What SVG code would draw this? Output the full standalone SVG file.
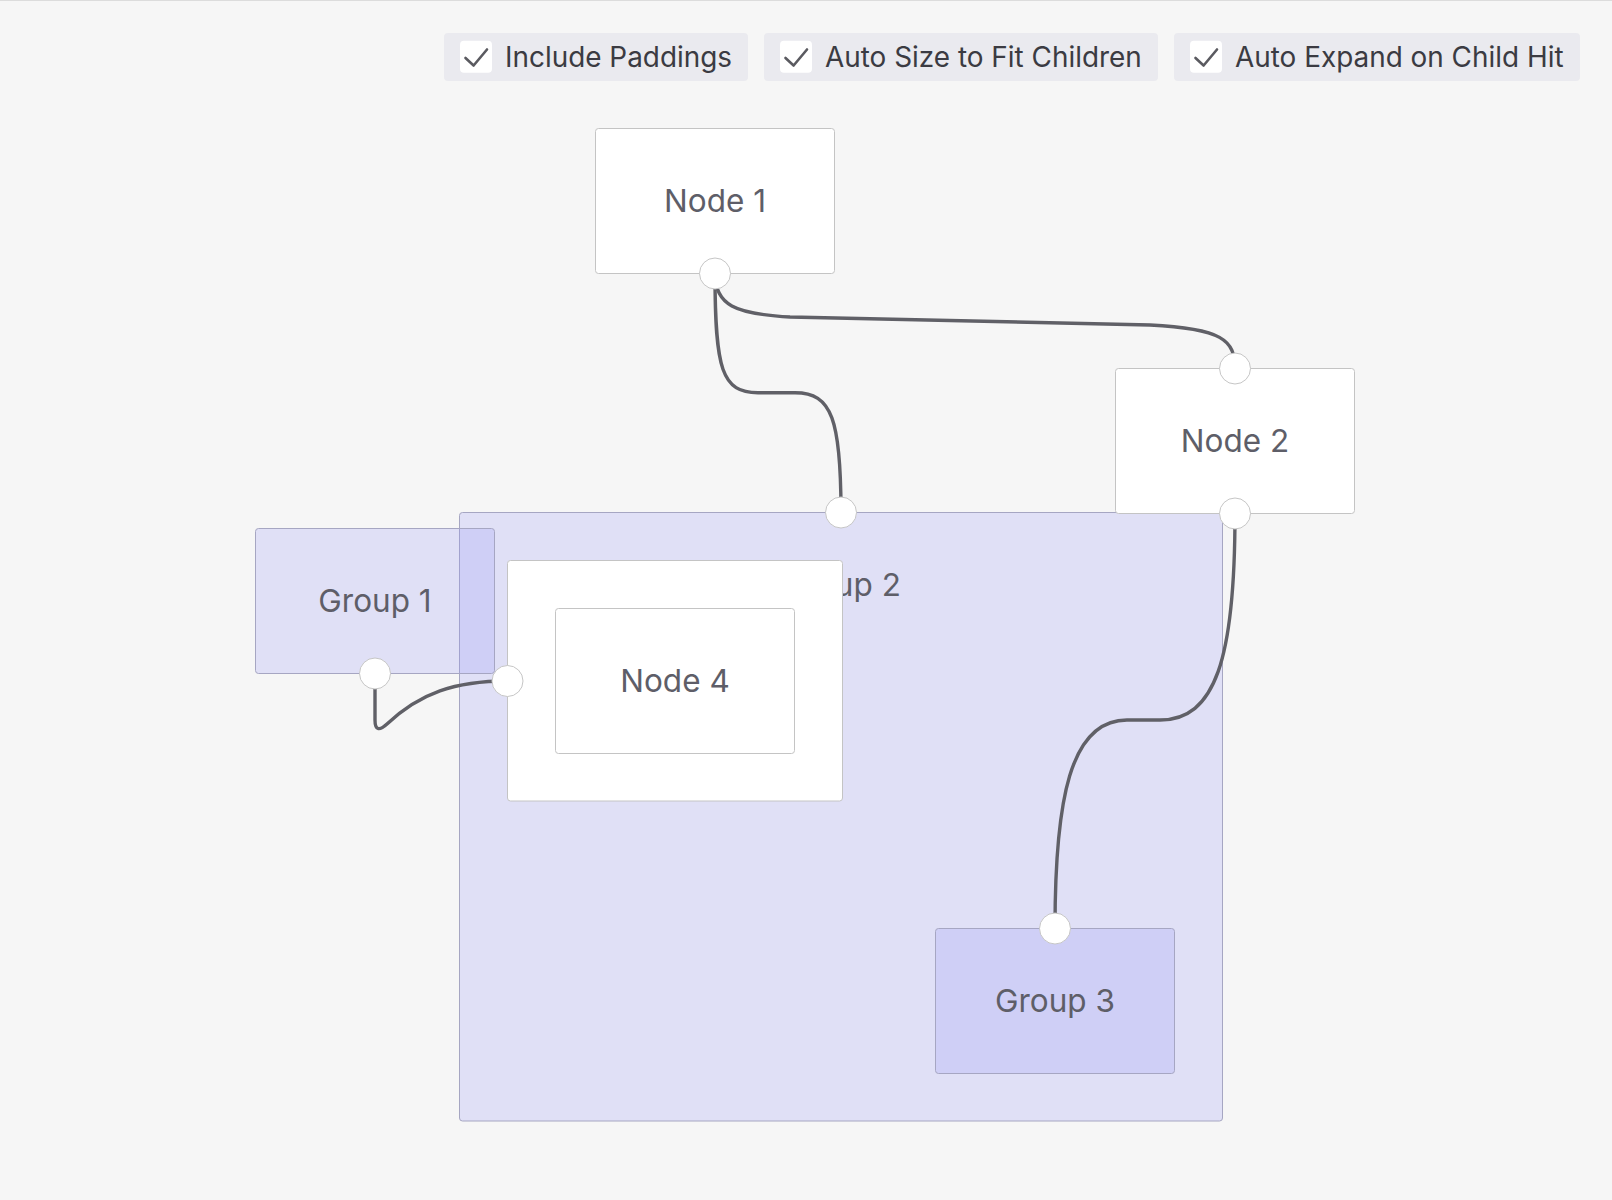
<svg xmlns="http://www.w3.org/2000/svg" width="1612" height="1200" viewBox="0 0 1612 1200">
<style>
.bg{fill:#f6f6f6}
.btn{fill:#eaeaef}
.cb{fill:#ffffff}
.ck{fill:none;stroke:#5a5a60;stroke-width:2.6;stroke-linecap:round;stroke-linejoin:round}
.btxt{font-family:Inter,"Liberation Sans",sans-serif;font-size:27.9px;fill:#3b3b42}
.node{fill:#ffffff;stroke:#c4c4c4;stroke-width:1}
.grp{fill:rgba(150,150,245,0.23);stroke:#a6a6c2;stroke-width:1}
.lbl{font-family:Inter,"Liberation Sans",sans-serif;font-size:31.5px;fill:#5e5e68;text-anchor:middle}
.edge{fill:none;stroke:#606067;stroke-width:3.4;stroke-linecap:round}
.h{fill:#ffffff;stroke:#c6c6c6;stroke-width:1}
</style>
<rect class="bg" x="0" y="0" width="1612" height="1200"/>
<line x1="0" y1="0.5" x2="1612" y2="0.5" stroke="#dcdcdc" stroke-width="1"/>

<g id="toolbar">
  <g id="opt-include-paddings">
    <rect class="btn" x="444" y="33" width="304" height="48" rx="4"/>
    <rect class="cb" x="460" y="40.7" width="32" height="32" rx="4"/>
    <path class="ck" d="M465.5,58 L473.6,65.5 L487,49.5"/>
    <text class="btxt" x="505" y="66.7">Include Paddings</text>
  </g>
  <g id="opt-auto-size">
    <rect class="btn" x="764" y="33" width="394" height="48" rx="4"/>
    <rect class="cb" x="780" y="40.7" width="32" height="32" rx="4"/>
    <path class="ck" d="M785.5,58 L793.6,65.5 L807,49.5"/>
    <text class="btxt" x="825" y="66.7">Auto Size to Fit Children</text>
  </g>
  <g id="opt-auto-expand">
    <rect class="btn" x="1174" y="33" width="406" height="48" rx="4"/>
    <rect class="cb" x="1190" y="40.7" width="32" height="32" rx="4"/>
    <path class="ck" d="M1195.5,58 L1203.6,65.5 L1217,49.5"/>
    <text class="btxt" x="1235" y="66.7">Auto Expand on Child Hit</text>
  </g>
</g>

<g id="group-2">
  <rect class="grp" x="459.5" y="512.5" width="763" height="608.5" rx="3"/>
  <text class="lbl" x="841" y="595.5">Group 2</text>
</g>
<g id="group-1">
  <rect class="grp" x="255.5" y="528.5" width="239" height="145" rx="3"/>
  <text class="lbl" x="375" y="612">Group 1</text>
</g>
<g id="group-3">
  <rect class="grp" x="935.5" y="928.5" width="239" height="145" rx="3"/>
  <text class="lbl" x="1055" y="1012">Group 3</text>
</g>
<g id="node-4-container">
  <rect class="node" x="507.5" y="560.5" width="335" height="240.5" rx="3"/>
</g>
<g id="node-4">
  <rect class="node" x="555.5" y="608.5" width="239" height="145" rx="3"/>
  <text class="lbl" x="675" y="691.5">Node 4</text>
</g>
<g id="node-1">
  <rect class="node" x="595.5" y="128.5" width="239" height="145" rx="3"/>
  <text class="lbl" x="715" y="211.5">Node 1</text>
</g>
<g id="node-2">
  <rect class="node" x="1115.5" y="368.5" width="239" height="145" rx="3"/>
  <text class="lbl" x="1235" y="451.5">Node 2</text>
</g>

<g id="connectors">
  <path class="edge" d="M715,273.5 C715,305 735,314 790,317 L1150,325 C1222,328.5 1235,340 1235,368.5"/>
  <path class="edge" d="M715,273.5 C715,370 722,392.7 758,392.7 L795,392.7 C832,392.7 841,420 841,512.5"/>
  <path class="edge" d="M1235,513.5 C1235,660 1215,720 1160,720 L1127,720 C1070,720 1055,800 1055,928.5"/>
  <path class="edge" d="M375,673.5 L375,720 Q375,735 387,724 C420,693 455,681 507.5,681"/>
</g>

<g id="handles">
  <circle class="h" cx="715" cy="273.5" r="15.5"/>
  <circle class="h" cx="1235" cy="368.5" r="15.5"/>
  <circle class="h" cx="1235" cy="513.5" r="15.5"/>
  <circle class="h" cx="841" cy="512.5" r="15.5"/>
  <circle class="h" cx="375" cy="673.5" r="15.5"/>
  <circle class="h" cx="507.5" cy="681" r="15.5"/>
  <circle class="h" cx="1055" cy="928.5" r="15.5"/>
</g>
</svg>
